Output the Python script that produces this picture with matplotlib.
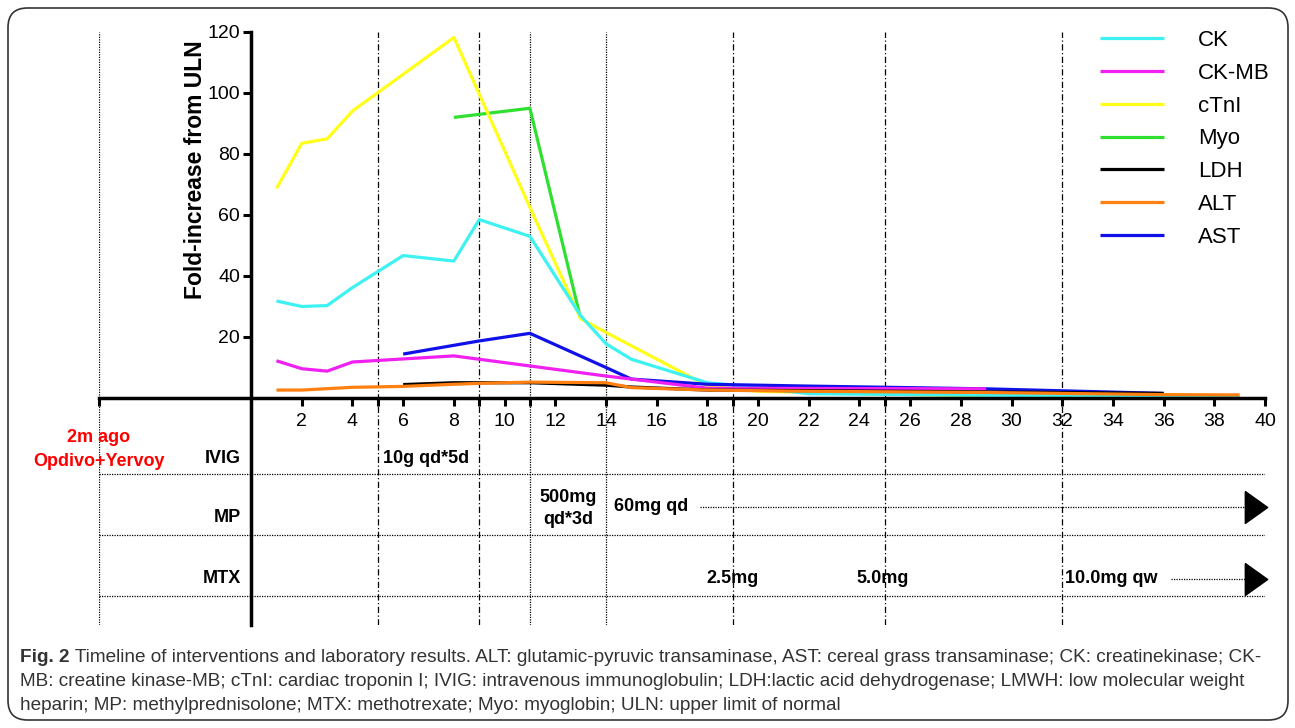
import matplotlib
matplotlib.use("Agg")
import matplotlib.pyplot as plt
from matplotlib.patches import FancyBboxPatch

plt.rcParams['font.family'] = ['Liberation Sans', 'DejaVu Sans']

# ---------------- data ----------------
ck_x = [1, 2, 3, 4, 6, 8, 9, 11, 13, 14, 15, 18, 19, 22, 29, 39]
ck_y = [31.8, 30.0, 30.3, 36.2, 46.7, 44.9, 58.5, 53.0, 27.0, 17.8, 12.7, 5.0, 4.3, 1.4, 0.9, 0.5]

ckmb_x = [1, 2, 3, 4, 8, 11, 14, 15, 18, 29]
ckmb_y = [12.2, 9.6, 8.8, 11.8, 13.8, 10.5, 7.2, 6.2, 3.2, 3.0]

ctni_x = [1, 2, 3, 4, 8, 11, 13, 14, 18, 20, 29]
ctni_y = [68.7, 83.5, 85.0, 94.1, 118.2, 62.5, 26.0, 21.5, 4.0, 2.2, 0.6]

myo_x = [8, 11, 13]
myo_y = [92.0, 95.0, 26.0]

ldh_x = [6, 8, 11, 14, 15, 18, 22, 29, 36]
ldh_y = [4.4, 5.0, 5.0, 4.2, 3.6, 2.6, 2.4, 2.0, 1.5]

alt_x = [1, 2, 4, 6, 8, 9, 11, 14, 15, 18, 22, 29, 36, 39]
alt_y = [2.6, 2.6, 3.5, 3.8, 4.5, 4.8, 5.2, 5.0, 3.4, 2.6, 2.2, 1.8, 1.1, 1.0]

ast_x = [6, 9, 11, 14, 15, 18, 22, 29, 36]
ast_y = [14.4, 18.7, 21.2, 10.0, 6.2, 4.5, 3.9, 3.0, 1.5]

series = [
    ("CK", ck_x, ck_y, "#3ef2f2", 4),
    ("CK-MB", ckmb_x, ckmb_y, "#f020f0", 6),
    ("cTnI", ctni_x, ctni_y, "#ffff1a", 3),
    ("Myo", myo_x, myo_y, "#30e030", 2),
    ("LDH", ldh_x, ldh_y, "#000000", 7),
    ("ALT", alt_x, alt_y, "#ff7f10", 8),
    ("AST", ast_x, ast_y, "#1010e8", 5),
]

x_ticks = list(range(2, 41, 2))
y_ticks = [20, 40, 60, 80, 100, 120]
event_days_dashdot = [5, 9, 19, 25, 32]
event_days_dotted = [-6, 11, 14]
row_labels = ["IVIG", "MP", "MTX"]
row_label_y = [-19.7, -39.3, -59.3]
row_lines_y = [-25, -45, -65]

# ---------------- figure ----------------
W, H = 1295, 728
fig = plt.figure(figsize=(W / 100, H / 100), dpi=100)

border = FancyBboxPatch((8 / W, 8 / H), (1288 - 8) / W, (720 - 8) / H,
                        boxstyle="round,pad=0,rounding_size=0.015",
                        transform=fig.transFigure, fill=False,
                        edgecolor="#333333", linewidth=1.2, mutation_aspect=W / H)
fig.patches.append(border)

x0, x1 = -6, 40
y0, y1 = -74.5, 120
left_px, right_px = 99, 1265
top_px, bot_px = 32, 625.2
ax = fig.add_axes([left_px / W, 1 - bot_px / H, (right_px - left_px) / W, (bot_px - top_px) / H])
ax.set_xlim(x0, x1)
ax.set_ylim(y0, y1)
ax.patch.set_alpha(0)

for s in ["top", "right"]:
    ax.spines[s].set_visible(False)
ax.spines["bottom"].set_position(("data", 0))
ax.spines["bottom"].set_bounds(-6, 40)
ax.spines["left"].set_position(("data", 0))
ax.spines["left"].set_bounds(y0, 120)
for s in ["bottom", "left"]:
    ax.spines[s].set_linewidth(2.5)
    ax.spines[s].set_zorder(10)

ax.set_xticks(x_ticks)
ax.set_xticklabels([str(v) for v in x_ticks])
ax.set_xticks([-6] + [d for d in event_days_dashdot + event_days_dotted if d not in x_ticks and d != -6], minor=True)
ax.set_yticks(y_ticks)
ax.set_yticklabels([str(v) for v in y_ticks])
ax.tick_params(axis="x", which="both", direction="out", length=6, width=2.2, labelsize=14, pad=5)
ax.tick_params(axis="y", which="both", direction="out", length=6, width=2.2, labelsize=14, pad=2)

# event vertical lines
for d in event_days_dashdot:
    ax.plot([d, d], [y0, 120], color="black", lw=0.9, dashes=(5, 2, 1, 2), zorder=1)
for d in event_days_dotted:
    ax.plot([d, d], [y0, 120], color="black", lw=0.9, dashes=(1, 1), zorder=1)

# row separator lines
for yy in row_lines_y:
    ax.plot([x0, x1], [yy, yy], color="black", lw=0.9, dashes=(1, 1), zorder=1)

# data lines
handles = []
for name, xs, ys, col, z in series:
    h, = ax.plot(xs, ys, color=col, lw=2.3, zorder=z, solid_capstyle="butt", label=name)
    handles.append(h)

leg = ax.legend(handles=handles, loc="upper left", bbox_to_anchor=(1100 / W, 1 - 30 / H),
                bbox_transform=fig.transFigure, frameon=False, fontsize=16,
                handlelength=2.9, handletextpad=1.5, labelspacing=0.53,
                borderpad=0, borderaxespad=0)

# y label
ax.text(-2.2, 75, "Fold-increase from ULN", rotation=90, ha="center", va="center",
        fontsize=16.5, fontweight="bold")

# annotation texts
for lab, yy in zip(row_labels, row_label_y):
    ax.text(-0.4, yy, lab, ha="right", va="center", fontsize=13, fontweight="bold")

ax.text(-6, -13.1, "2m ago", ha="center", va="center", fontsize=13, fontweight="bold", color="#ff0000")
ax.text(-6, -20.7, "Opdivo+Yervoy", ha="center", va="center", fontsize=13, fontweight="bold", color="#ff0000")

ax.text(5.2, -19.7, "10g qd*5d", ha="left", va="center", fontsize=13, fontweight="bold")
ax.text(12.5, -32.5, "500mg", ha="center", va="center", fontsize=13, fontweight="bold")
ax.text(12.5, -40.0, "qd*3d", ha="center", va="center", fontsize=13, fontweight="bold")
ax.text(14.3, -35.7, "60mg qd", ha="left", va="center", fontsize=13, fontweight="bold")
ax.text(19.0, -59.3, "2.5mg", ha="center", va="center", fontsize=13, fontweight="bold")
ax.text(24.9, -59.3, "5.0mg", ha="center", va="center", fontsize=13, fontweight="bold")
ax.text(32.1, -59.3, "10.0mg qw", ha="left", va="center", fontsize=13, fontweight="bold")

tri = [(-0.7, 1.0), (-0.7, -1.0), (0.7, 0.0), (-0.7, 1.0)]
ax.plot([17.7, 39.2], [-35.7, -35.7], color="black", lw=0.9, dashes=(1, 1))
ax.plot([36.3, 39.2], [-59.3, -59.3], color="black", lw=0.9, dashes=(1, 1))
ax.plot([39.65], [-35.7], marker=tri, ms=23, color="black", clip_on=False)
ax.plot([39.65], [-59.3], marker=tri, ms=23, color="black", clip_on=False)

# caption
cap_col = "#333333"
lines = [
    " Timeline of interventions and laboratory results. ALT: glutamic-pyruvic transaminase, AST: cereal grass transaminase; CK: creatinekinase; CK-",
    "MB: creatine kinase-MB; cTnI: cardiac troponin I; IVIG: intravenous immunoglobulin; LDH:lactic acid dehydrogenase; LMWH: low molecular weight",
    "heparin; MP: methylprednisolone; MTX: methotrexate; Myo: myoglobin; ULN: upper limit of normal",
]
cap_fs = 12
fig.canvas.draw()
r = fig.canvas.get_renderer()
t_bold = fig.text(20 / W, 1 - 658 / H, "Fig. 2", fontsize=cap_fs, fontweight="bold", color=cap_col, va="center")
bb = t_bold.get_window_extent(r)
t1 = fig.text(bb.x1 / W, 1 - 658 / H, lines[0], fontsize=cap_fs, color=cap_col, va="center")
b1 = t1.get_window_extent(r)
scale = (1270 - bb.x0) / (b1.x1 - bb.x0)
cap_fs = cap_fs * scale
t_bold.set_fontsize(cap_fs)
bb = t_bold.get_window_extent(r)
t1.set_fontsize(cap_fs)
t1.set_x(bb.x1 / W)
fig.text(20 / W, 1 - 682 / H, lines[1], fontsize=cap_fs, color=cap_col, va="center")
fig.text(20 / W, 1 - 706 / H, lines[2], fontsize=cap_fs, color=cap_col, va="center")

fig.savefig("out.png", dpi=100)
